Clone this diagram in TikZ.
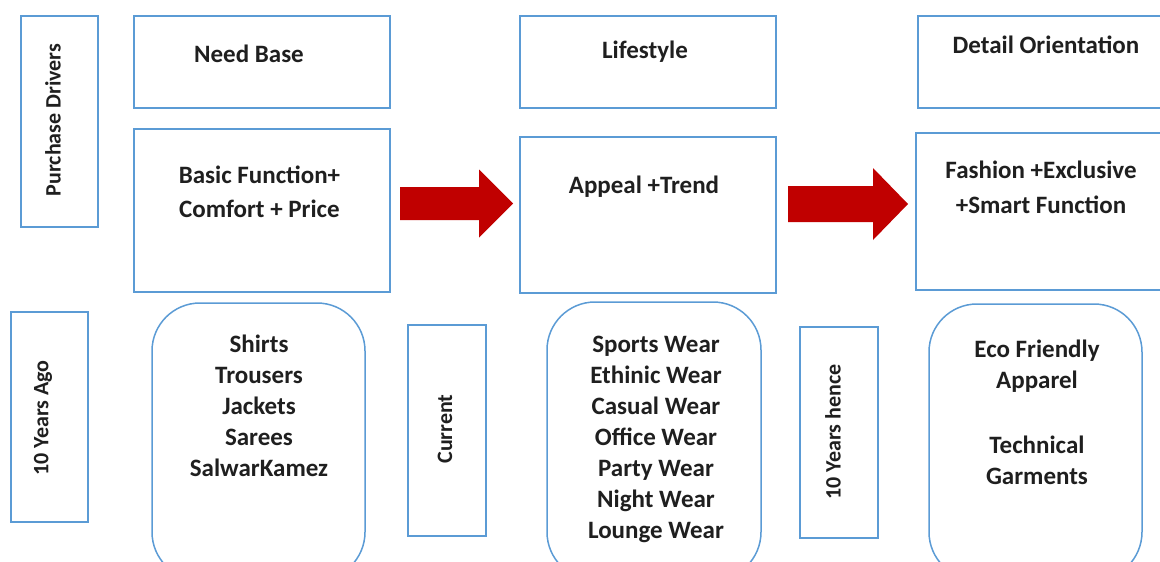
\documentclass[tikz,border=0pt]{standalone}
\usepackage{fontspec}
\setmainfont{Carlito}
\definecolor{boxblue}{HTML}{5B9BD5}
\definecolor{arrowred}{HTML}{C00000}
\tikzset{
  box/.style={draw=boxblue, line width=1.5pt, fill=white, inner sep=0pt},
  rbox/.style={box, rounded corners=48pt},
  lbl/.style={font=\fontsize{25}{31}\selectfont\bfseries, inner sep=0pt, align=center, text=black!88},
  side/.style={font=\fontsize{22}{26}\selectfont\bfseries, inner sep=0pt, rotate=90, text=black!88},
  bigarrow/.style={fill=arrowred, draw=none}
}
\begin{document}
\begin{tikzpicture}[x=1pt,y=-1pt]
\useasboundingbox (0,0) rectangle (1160,562);
\clip (0,0) rectangle (1160,562);
% top row boxes
\node[box, minimum width=77, minimum height=211] (pd) at (59.5,121.5) {};
\node[box, minimum width=256, minimum height=92] (nb) at (262,62) {};
\node[box, minimum width=256, minimum height=163] (bf) at (262,210.5) {};
\node[box, minimum width=256, minimum height=92] (ls) at (648,62) {};
\node[box, minimum width=256, minimum height=156] (at) at (648,215) {};
\node[box, minimum width=257, minimum height=92] (do) at (1046.5,62) {};
\node[box, minimum width=259, minimum height=157] (fe) at (1045.5,211.5) {};
% bottom row boxes
\node[box, minimum width=77, minimum height=210] (ya) at (49.5,417) {};
\node[box, minimum width=78, minimum height=211] (cur) at (447,430.5) {};
\node[box, minimum width=78, minimum height=211] (yh) at (839,432.5) {};
\node[rbox, minimum width=213, minimum height=277] (sh) at (258.5,441.5) {};
\node[rbox, minimum width=214, minimum height=278] (sp) at (654,441) {};
\node[rbox, minimum width=213, minimum height=276] (eco) at (1035.5,442) {};
% arrows
\coordinate (a1) at (400,203.5);
\coordinate (a2) at (788,204);
\fill[bigarrow] (a1) ++(0,-16.5) -- ++(79,0) -- ++(0,-17.5) -- ++(34,34) -- ++(-34,34) -- ++(0,-17.5) -- ++(-79,0) -- cycle;
\fill[bigarrow] (a2) ++(0,-18) -- ++(85,0) -- ++(0,-18) -- ++(35,36) -- ++(-35,36) -- ++(0,-18) -- ++(-85,0) -- cycle;
% texts
\node[side] (tpd) at (53,120) {Purchase Drivers};
\node[side] (tya) at (43,418) {10 Years Ago};
\node[side] (tcur) at (445,429) {Current};
\node[side] (tyh) at (833,432) {10 Years hence};
\node[lbl, anchor=base] (tnb) at (249,62) {Need Base};
\node[lbl, anchor=base] (tls) at (645,58) {Lifestyle};
\node[lbl, anchor=base] (tdo) at (1046,53) {Detail Orientation};
\node[lbl, anchor=base] (tat) at (644,193) {Appeal +Trend};
\node[lbl, anchor=north, font=\fontsize{25}{34}\selectfont\bfseries] (tbf) at (259.5,165.5) {Basic Function+\\Comfort + Price};
\node[lbl, anchor=north, font=\fontsize{25}{35}\selectfont\bfseries] (tfe) at (1041,160.5) {Fashion +Exclusive\\+Smart Function};
\node[lbl, anchor=north] (tsh) at (259,334.5) {Shirts\\Trousers\\Jackets\\Sarees\\SalwarKamez};
\node[lbl, anchor=north] (tsp) at (656,335.5) {Sports Wear\\Ethinic Wear\\Casual Wear\\Office Wear\\Party Wear\\Night Wear\\Lounge Wear};
\node[lbl, anchor=north] (teco) at (1037,339.5) {Eco Friendly\\Apparel\\[34pt]Technical\\Garments};
\end{tikzpicture}
\end{document}
